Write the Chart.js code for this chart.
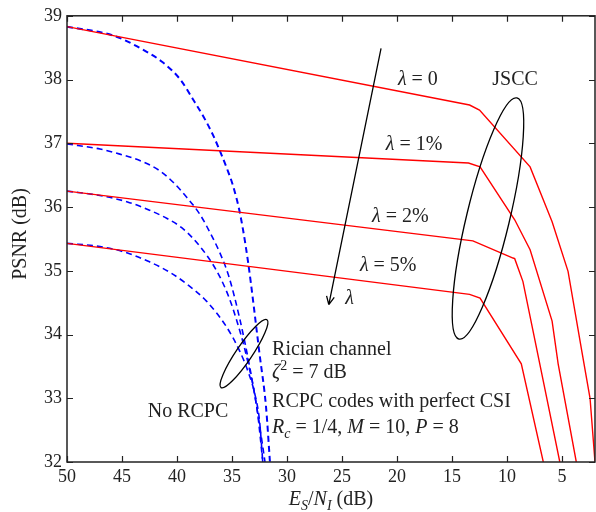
<!DOCTYPE html>
<html>
<head>
<meta charset="utf-8">
<script src="https://cdn.jsdelivr.net/npm/chart.js@4.4.0/dist/chart.umd.min.js"></script>
<style>
  html, body { margin: 0; padding: 0; background: #fff; }
  canvas { display: block; }
</style>
</head>
<body>
<canvas id="psnrChart" width="596" height="512"></canvas>
<script>
const xTicks = [5, 10, 15, 20, 25, 30, 35, 40, 45, 50];
const yTicks = [32, 33, 34, 35, 36, 37, 38, 39];

// JSCC (red, solid)
const jscc0X = [50, 13.4, 12.5, 7.9, 5.9, 4.45, 3.2, 2.45, 2.0];
const jscc0Y = [38.83, 37.6, 37.52, 36.63, 35.77, 34.99, 33.74, 33.0, 32.0];
const jscc1X = [50, 13.5, 12.45, 9.3, 7.9, 5.9, 5.35, 3.7];
const jscc1Y = [37.0, 36.69, 36.63, 35.8, 35.33, 34.21, 33.54, 32.0];
const jscc2X = [50, 13.1, 9.45, 9.3, 8.55, 6.7, 5.2];
const jscc2Y = [36.25, 35.47, 35.2, 35.19, 34.83, 33.27, 32.0];
const jscc5X = [50, 13.4, 12.45, 8.7, 6.7];
const jscc5Y = [35.43, 34.63, 34.57, 33.54, 32.0];

// No RCPC (blue, dashed)
const plain0X = [50, 45.8, 43.1, 41.3, 39.7, 38.55, 37.6, 36.7, 36.1, 35.45, 34.9, 34.25, 33.55, 32.5, 31.9, 31.55];
const plain0Y = [38.83, 38.69, 38.47, 38.27, 38.0, 37.69, 37.42, 37.12, 36.88, 36.6, 36.33, 35.88, 35.15, 33.7, 32.85, 32.0];
const plain1X = [50, 47, 45.2, 43.1, 41.5, 40.3, 39.1, 37.9, 37.0, 36.1, 35.3, 34.3, 33.4, 32.6, 32.0];
const plain1Y = [36.99, 36.91, 36.83, 36.71, 36.56, 36.38, 36.15, 35.88, 35.6, 35.28, 34.92, 34.25, 33.5, 32.7, 32.0];
const plain2X = [50, 47, 44.5, 42.5, 40.9, 39.6, 38.5, 37.2, 36.4, 35.6, 34.9, 33.6, 32.7, 32.2];
const plain2Y = [36.25, 36.18, 36.08, 35.95, 35.82, 35.68, 35.5, 35.22, 35.0, 34.72, 34.4, 33.6, 32.8, 32.0];
const plain5X = [50, 47, 44.9, 42.5, 40.5, 39.1, 37.3, 35.5, 34.3, 33.5, 32.9, 32.5, 32.2];
const plain5Y = [35.43, 35.38, 35.3, 35.14, 34.96, 34.79, 34.52, 34.12, 33.74, 33.4, 33.05, 32.65, 32.0];

const SERIF = "'Liberation Serif', 'DejaVu Serif', serif";
const INK = '#222';

const pts = (xs, ys) => xs.map((x, i) => ({ x, y: ys[i] }));

const red = (xs, ys) => ({
  data: pts(xs, ys), borderColor: '#ff0000', borderWidth: 1.4,
  pointRadius: 0, tension: 0, fill: false
});
const blue = (xs, ys, w) => ({
  data: pts(xs, ys), borderColor: '#0000ff', borderWidth: w, borderDash: [6, 4],
  pointRadius: 0, cubicInterpolationMode: 'monotone', fill: false
});

// text made of runs: {t, it, sub, sup}
function drawRuns(ctx, runs, x, y, size, align) {
  const fontOf = r => `${r.it ? 'italic ' : ''}${(r.sub || r.sup) ? Math.round(size * 0.7) : size}px ${SERIF}`;
  let total = 0;
  runs.forEach(r => { ctx.font = fontOf(r); total += ctx.measureText(r.t).width; });
  let cx = align === 'center' ? x - total / 2 : x;
  ctx.textAlign = 'left';
  ctx.textBaseline = 'alphabetic';
  runs.forEach(r => {
    ctx.font = fontOf(r);
    const dy = r.sub ? size * 0.25 : r.sup ? -size * 0.42 : 0;
    ctx.fillText(r.t, cx, y + dy);
    cx += ctx.measureText(r.t).width;
  });
}

const annotate = {
  id: 'annotate',
  afterDatasetsDraw(chart) {
    const { ctx, chartArea: a, scales: { x, y } } = chart;
    const px = v => x.getPixelForValue(v);
    const py = v => y.getPixelForValue(v);
    ctx.save();

    // frame with inward ticks
    ctx.strokeStyle = INK;
    ctx.lineWidth = 1.5;
    ctx.strokeRect(a.left, a.top, a.right - a.left, a.bottom - a.top);
    ctx.lineWidth = 1.2;
    ctx.beginPath();
    xTicks.forEach(v => {
      const p = Math.round(px(v)) + 0.5;
      ctx.moveTo(p, a.bottom); ctx.lineTo(p, a.bottom - 6);
      ctx.moveTo(p, a.top); ctx.lineTo(p, a.top + 6);
    });
    yTicks.forEach(v => {
      const p = Math.round(py(v)) + 0.5;
      ctx.moveTo(a.left, p); ctx.lineTo(a.left + 6, p);
      ctx.moveTo(a.right, p); ctx.lineTo(a.right - 6, p);
    });
    ctx.stroke();

    // ellipses
    ctx.strokeStyle = '#000';
    ctx.lineWidth = 1.3;
    ctx.beginPath();
    ctx.ellipse(px(11.73), py(35.82), 124, 21.5, -1.335, 0, Math.PI * 2);
    ctx.stroke();
    ctx.beginPath();
    ctx.ellipse(px(33.91), py(33.70), 41, 8, -0.976, 0, Math.PI * 2);
    ctx.stroke();

    // lambda arrow
    const ax0 = px(21.45), ay0 = py(38.49), ax1 = px(26.2), ay1 = py(34.47);
    ctx.beginPath();
    ctx.moveTo(ax0, ay0); ctx.lineTo(ax1, ay1);
    const ang = Math.atan2(ay1 - ay0, ax1 - ax0);
    [0.45, -0.45].forEach(d => {
      ctx.moveTo(ax1, ay1);
      ctx.lineTo(ax1 - 9 * Math.cos(ang + d), ay1 - 9 * Math.sin(ang + d));
    });
    ctx.stroke();

    // labels
    ctx.fillStyle = INK;
    const S = 20;
    drawRuns(ctx, [{ t: 'λ', it: true }, { t: ' = 0' }], px(18.1), py(37.91), S, 'center');
    drawRuns(ctx, [{ t: 'JSCC' }], px(9.27), py(37.91), S, 'center');
    drawRuns(ctx, [{ t: 'λ', it: true }, { t: ' = 1%' }], px(18.45), py(36.89), S, 'center');
    drawRuns(ctx, [{ t: 'λ', it: true }, { t: ' = 2%' }], px(19.7), py(35.77), S, 'center');
    drawRuns(ctx, [{ t: 'λ', it: true }, { t: ' = 5%' }], px(20.8), py(35.0), S, 'center');
    drawRuns(ctx, [{ t: 'λ', it: true }], px(24.7), py(34.48), S, 'left');
    drawRuns(ctx, [{ t: 'No RCPC' }], px(39.0), py(32.71), S, 'center');

    const lx = px(31.36);
    drawRuns(ctx, [{ t: 'Rician channel' }], lx, py(33.68), S, 'left');
    drawRuns(ctx, [{ t: 'ζ', it: true }, { t: '2', sup: true }, { t: ' = 7 dB' }], lx, py(33.31), S, 'left');
    drawRuns(ctx, [{ t: 'RCPC codes with perfect CSI' }], lx, py(32.87), S, 'left');
    drawRuns(ctx, [
      { t: 'R', it: true }, { t: 'c', it: true, sub: true }, { t: ' = 1/4, ' },
      { t: 'M', it: true }, { t: ' = 10, ' }, { t: 'P', it: true }, { t: ' = 8' }
    ], lx, py(32.46), S, 'left');

    // axis titles
    drawRuns(ctx, [
      { t: 'E', it: true }, { t: 'S', it: true, sub: true }, { t: '/' },
      { t: 'N', it: true }, { t: 'I', it: true, sub: true }, { t: ' (dB)' }
    ], (a.left + a.right) / 2, 505, S, 'center');
    ctx.translate(26, 234);
    ctx.rotate(-Math.PI / 2);
    drawRuns(ctx, [{ t: 'PSNR (dB)' }], 0, 0, S, 'center');

    ctx.restore();
  }
};

new Chart(document.getElementById('psnrChart'), {
  type: 'line',
  data: {
    datasets: [
      red(jscc0X, jscc0Y), red(jscc1X, jscc1Y), red(jscc2X, jscc2Y), red(jscc5X, jscc5Y),
      blue(plain0X, plain0Y, 2.0), blue(plain1X, plain1Y, 1.6),
      blue(plain2X, plain2Y, 1.6), blue(plain5X, plain5Y, 1.6)
    ]
  },
  options: {
    responsive: false,
    animation: false,
    devicePixelRatio: 1,
    layout: { padding: { top: 13, right: 1, left: 0, bottom: 0 } },
    plugins: { legend: { display: false }, tooltip: { enabled: false } },
    scales: {
      x: {
        type: 'linear', reverse: true, min: 2, max: 50,
        afterBuildTicks: s => { s.ticks = xTicks.map(v => ({ value: v })); },
        afterFit: s => { s.height = 50; },
        grid: { display: false, drawTicks: false },
        border: { display: false },
        ticks: { font: { family: SERIF, size: 18 }, color: INK, padding: 4, maxRotation: 0, autoSkip: false }
      },
      y: {
        type: 'linear', min: 32, max: 39,
        afterBuildTicks: s => { s.ticks = yTicks.map(v => ({ value: v })); },
        afterFit: s => { s.width = 67; },
        grid: { display: false, drawTicks: false },
        border: { display: false },
        ticks: { font: { family: SERIF, size: 18 }, color: INK, padding: 5 }
      }
    }
  },
  plugins: [annotate]
});
</script>
</body>
</html>
